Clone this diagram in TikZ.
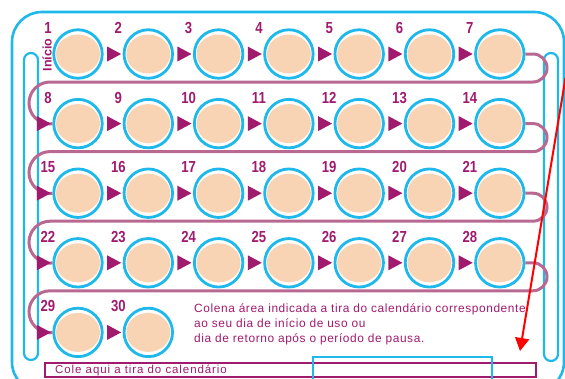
\documentclass[tikz,border=0pt]{standalone}
\usepackage{fontspec}
\setmainfont{Liberation Sans}
\newfontfamily\condfont[FakeStretch=0.82]{Liberation Sans}
\usetikzlibrary{arrows.meta,calc}
\definecolor{bcyan}{RGB}{30,184,234}
\definecolor{peach}{RGB}{249,212,180}
\definecolor{mag}{RGB}{160,26,110}
\definecolor{mauve}{RGB}{185,105,145}
\tikzset{
  ring/.style={circle, draw=bcyan, line width=2.8pt, fill=white, minimum size=48.5pt, inner sep=0pt},
  num/.style={font=\condfont\bfseries\fontsize{16}{16}\selectfont, text=mag, inner sep=0pt},
  rail/.style={draw=bcyan, line width=2.2pt, fill=white, rounded corners=7pt},
  loopline/.style={draw=mauve, line width=3pt},
  tri/.style={fill=mag},
  note/.style={font=\fontsize{11.9}{15}\selectfont\addfontfeature{LetterSpace=5}, text=mag, align=left, inner sep=0pt},
}
\begin{document}
\begin{tikzpicture}[x=1pt,y=-1pt]
\useasboundingbox (0,0) rectangle (565,378);
\clip (0,0) rectangle (565,378);
% outer card
\draw[bcyan, line width=2.6pt, rounded corners=30pt] (12,12) rectangle (564,392);
% rails
\draw[rail] (24,53) rectangle (38,360);
\draw[rail] (544,53) rectangle (558,361);
% circles
\foreach \k in {1,...,30}{
  \pgfmathtruncatemacro{\row}{floor((\k-1)/7)}
  \pgfmathtruncatemacro{\col}{mod(\k-1,7)}
  \pgfmathsetmacro{\cx}{78+70.3*\col}
  \pgfmathsetmacro{\cy}{54+69.6*\row}
  \node[ring] (c\k) at (\cx,\cy) {};
  \fill[peach] (c\k) ellipse (22 and 19.5);
  \node[num] (n\k) at ($(c\k)+(-30,-26)$) {\k};
}
% row connectors
\foreach \a/\b in {7/8,14/15,21/22,28/29}{
  \draw[loopline] (c\a.east) -- (c\a.east -| 533,0)
    arc[start angle=-90, end angle=90, radius=14]
    -- ++(-483,0)
    arc[start angle=-90, end angle=-270, radius=21]
    -- (c\b.west);
}
% arrow triangles
\foreach \k in {2,...,30}{
  \fill[tri] ($(c\k.west)+(-1.5,0)$) -- ++(-14,-7.5) -- ++(0,15) -- cycle;
}
% start label
\node[font=\bfseries\fontsize{12.5}{12.5}\selectfont, text=mag, rotate=90, inner sep=0pt] (inicio) at (47,55) {Início};
% note
\node[note, anchor=north west] (note) at (194,304) {Colena área indicada a tira do calendário correspondente\\ao seu dia de início de uso ou\\dia de retorno após o período de pausa.};
% strip
\draw[mag, line width=1.3pt] (45,363) rectangle (536,377);
\node[font=\fontsize{11.5}{11.5}\selectfont\addfontfeature{LetterSpace=8}, text=mag, anchor=west, inner sep=0pt] (strip) at (55,370) {Cole aqui a tira do calendário};
\draw[bcyan, line width=1.5pt] (313,357) rectangle (492,386);
% red arrow
\coordinate (rs) at (565.5,78);
\coordinate (re) at (520,351);
\draw[red, line width=2pt, -{Triangle[width=14pt,length=13pt]}] (rs) -- (re);
\end{tikzpicture}
\end{document}
